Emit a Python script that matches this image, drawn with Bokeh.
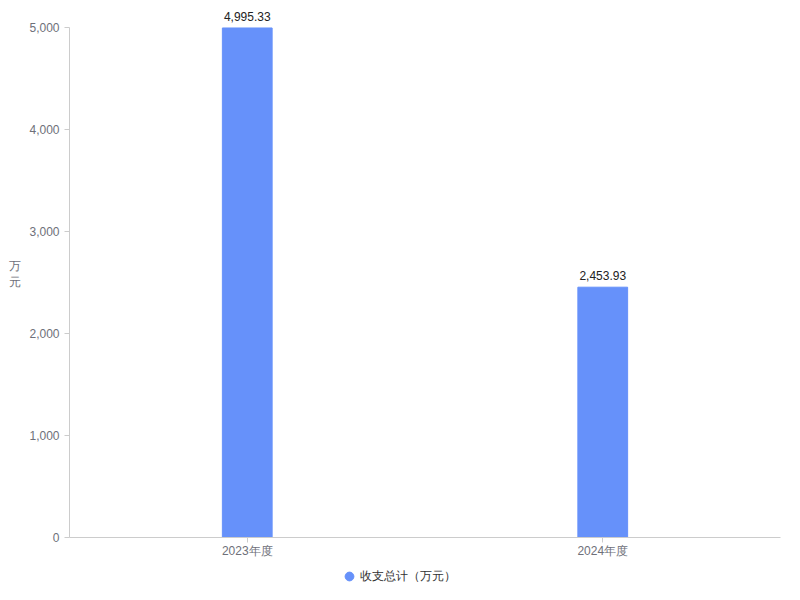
from bokeh.plotting import figure
from bokeh.models import (ColumnDataSource, FactorRange, Range1d, NumeralTickFormatter,
                          FixedTicker, Legend, LegendItem, LabelSet)
from bokeh.layouts import column
from bokeh.core.properties import value
from bokeh.embed import file_html
from bokeh.resources import INLINE

categories = ["2023年度", "2024年度"]
values = [4995.33, 2453.93]
series_name = "收支总计（万元）"
y_ticks = [0, 1000, 2000, 3000, 4000, 5000]
y_max = 5000

FONT = "Liberation Sans"
BAR = "#6691fa"
AXIS_TXT = "#6e7079"

src = ColumnDataSource(dict(
    x=categories, top=values,
    lbl=[f"{v:,.2f}" for v in values],
))

# frame extends 17px above the axis max so value labels are not clipped
FRAME_H = 527
AXIS_H = 510
p = figure(x_range=FactorRange(*categories, range_padding=0),
           y_range=Range1d(0, y_max * FRAME_H / AXIS_H),
           width=792, height=562, output_backend="svg", toolbar_location=None,
           min_border_left=69, min_border_right=12, min_border_top=10, min_border_bottom=25)
p.outline_line_color = None
p.xgrid.visible = False
p.ygrid.visible = False

p.vbar(x="x", top="top", width=0.14, source=src, fill_color=BAR, line_color=BAR)

labels = LabelSet(x="x", y="top", text="lbl", source=src, text_align="center",
                  text_baseline="bottom", y_offset=7, text_font_size=value("12px"),
                  text_color=value("#222222"), text_font=value(FONT))
p.add_layout(labels)

# axes
p.yaxis.ticker = FixedTicker(ticks=y_ticks)
p.yaxis.bounds = (0, y_max)
p.yaxis.formatter = NumeralTickFormatter(format="0,0")
p.yaxis.minor_tick_line_color = None
p.yaxis.major_tick_in = 0
p.yaxis.major_tick_out = 5
for ax in (p.xaxis[0], p.yaxis[0]):
    ax.axis_line_color = "#cccccc"
    ax.major_tick_line_color = "#cccccc"
    ax.major_label_text_color = AXIS_TXT
    ax.major_label_text_font_size = "12px"
    ax.major_label_text_font = FONT
p.xaxis.major_tick_in = 0
p.xaxis.major_tick_out = 5
p.xaxis.major_label_standoff = 1

p.yaxis.axis_label = "万\n元"
p.yaxis.axis_label_orientation = "horizontal"
p.yaxis.axis_label_text_font_style = "normal"
p.yaxis.axis_label_text_font_size = "12px"
p.yaxis.axis_label_text_color = AXIS_TXT
p.yaxis.axis_label_text_font = FONT
p.yaxis.axis_label_standoff = 5

# legend strip below the chart
lf = figure(width=792, height=30, output_backend="svg", toolbar_location=None,
            x_axis_type=None, y_axis_type=None,
            x_range=Range1d(1, 2), y_range=Range1d(1, 2),
            min_border_left=0, min_border_right=0, min_border_top=0, min_border_bottom=0)
lf.outline_line_color = None
lf.xgrid.visible = False
lf.ygrid.visible = False
proxy = lf.scatter(x=[0], y=[0], marker="circle", size=9, fill_color=BAR, line_color=BAR)
legend = Legend(items=[LegendItem(label=series_name, renderers=[proxy], index=0)],
                location=(269, 5), orientation="horizontal",
                label_text_font_size="12px", label_text_color="#333333",
                label_text_font=FONT, glyph_width=22, glyph_height=22,
                label_standoff=0, padding=0, margin=0,
                background_fill_alpha=0, border_line_color=None)
lf.add_layout(legend)

layout = column(p, lf, spacing=0)
open("out.html", "w").write(file_html(layout, INLINE))
